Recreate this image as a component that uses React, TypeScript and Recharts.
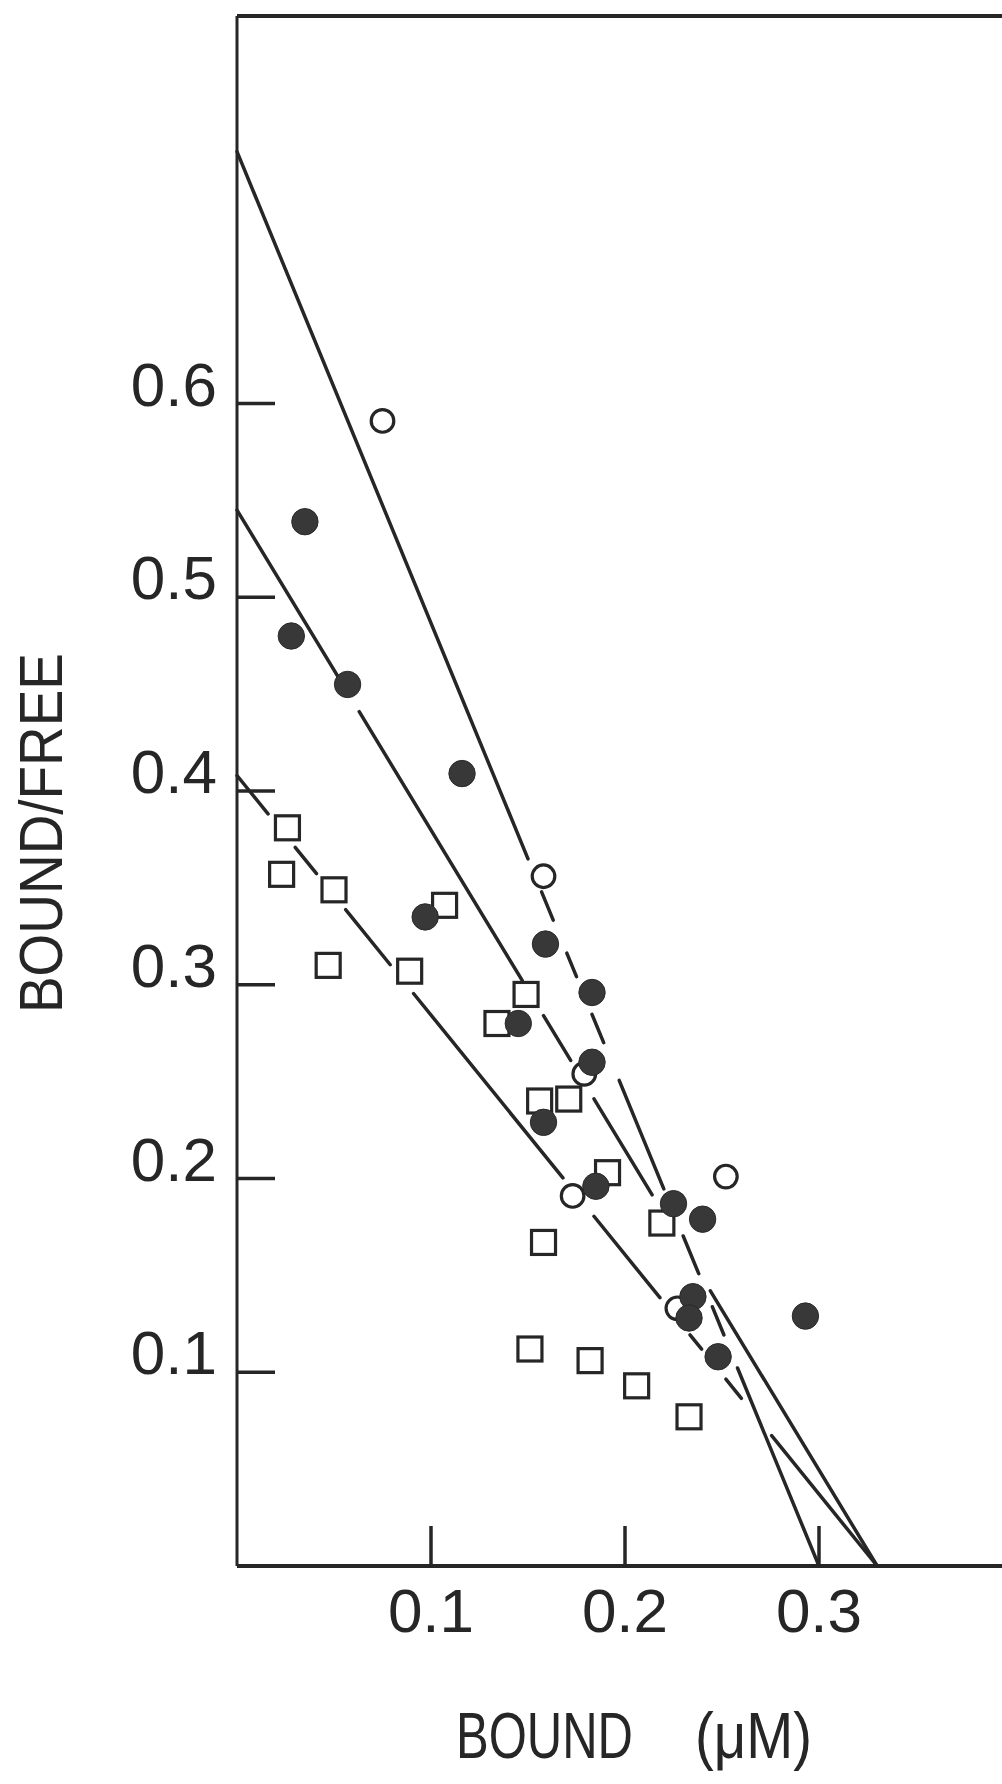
import { ScatterChart, Scatter, XAxis, YAxis, ReferenceLine, Label } from 'recharts';

// Scatchard plot: BOUND/FREE against BOUND (uM), three series with their fitted lines
const openCircles = [
    { x: 0.075, y: 0.591 },
    { x: 0.158, y: 0.356 },
    { x: 0.179, y: 0.254 },
    { x: 0.173, y: 0.191 },
    { x: 0.252, y: 0.201 },
    { x: 0.227, y: 0.133 },
];

const filledCircles = [
    { x: 0.035, y: 0.539 },
    { x: 0.028, y: 0.48 },
    { x: 0.057, y: 0.455 },
    { x: 0.116, y: 0.409 },
    { x: 0.097, y: 0.335 },
    { x: 0.159, y: 0.321 },
    { x: 0.183, y: 0.296 },
    { x: 0.145, y: 0.28 },
    { x: 0.183, y: 0.26 },
    { x: 0.158, y: 0.229 },
    { x: 0.185, y: 0.196 },
    { x: 0.225, y: 0.187 },
    { x: 0.24, y: 0.179 },
    { x: 0.235, y: 0.139 },
    { x: 0.233, y: 0.128 },
    { x: 0.248, y: 0.108 },
    { x: 0.293, y: 0.129 },
];

const squares = [
    { x: 0.026, y: 0.381 },
    { x: 0.023, y: 0.357 },
    { x: 0.05, y: 0.349 },
    { x: 0.047, y: 0.31 },
    { x: 0.089, y: 0.307 },
    { x: 0.107, y: 0.341 },
    { x: 0.134, y: 0.28 },
    { x: 0.149, y: 0.295 },
    { x: 0.156, y: 0.24 },
    { x: 0.171, y: 0.241 },
    { x: 0.191, y: 0.203 },
    { x: 0.158, y: 0.167 },
    { x: 0.219, y: 0.177 },
    { x: 0.151, y: 0.112 },
    { x: 0.182, y: 0.106 },
    { x: 0.206, y: 0.093 },
    { x: 0.233, y: 0.077 },
];

// fitted lines: B/F intercept and BOUND intercept
const openFit = { intercept: 0.73, xIntercept: 0.3 };
const filledFit = { intercept: 0.545, xIntercept: 0.33 };
const squareFit = { intercept: 0.408, xIntercept: 0.33 };

// the lines are drawn broken where they run through the symbols
const openPieces = [
    [0, 0.15], [0.157, 0.163], [0.17, 0.175], [0.183, 0.189],
    [0.197, 0.22], [0.23, 0.238], [0.245, 0.251], [0.258, 0.3],
];
const filledPieces = [
    [0, 0.053], [0.063, 0.147], [0.158, 0.172], [0.184, 0.214], [0.244, 0.33],
];
const squarePieces = [
    [0, 0.016], [0.03, 0.041], [0.056, 0.079], [0.091, 0.168],
    [0.184, 0.218], [0.2335, 0.2395], [0.252, 0.26], [0.2756, 0.33],
];

const xTicks = [0.1, 0.2, 0.3];
const yTicks = [0.1, 0.2, 0.3, 0.4, 0.5, 0.6];

const INK = '#262626';
const FONT = '"Liberation Sans", Arial, sans-serif';

const fitY = (fit: { intercept: number; xIntercept: number }, x: number) =>
    fit.intercept * (1 - x / fit.xIntercept);

function YTick(props: any) {
    const { x, y, payload } = props;
    return (
        <g>
            <line x1={x + 20} x2={x + 58} y1={y} y2={y} stroke={INK} strokeWidth={3.5} />
            <text x={x} y={y + 2} textAnchor="end" fontFamily={FONT} fontSize={62} fill={INK}>
                {payload.value.toFixed(1)}
            </text>
        </g>
    );
}

function XTick(props: any) {
    const { x, y, payload } = props;
    return (
        <g>
            <line x1={x} x2={x} y1={y - 21} y2={y - 61} stroke={INK} strokeWidth={3.5} />
            <text x={x} y={y + 45} textAnchor="middle" fontFamily={FONT} fontSize={62} fill={INK}>
                {payload.value.toFixed(1)}
            </text>
        </g>
    );
}

function OpenCircle(props: any) {
    return <circle cx={props.cx} cy={props.cy} r={11.3} fill="#fff" stroke={INK} strokeWidth={3.2} />;
}

function FilledCircle(props: any) {
    return <circle cx={props.cx} cy={props.cy} r={13.2} fill="#383838" stroke="#2a2a2a" strokeWidth={1} />;
}

function Square(props: any) {
    return (
        <rect x={props.cx - 12} y={props.cy - 12} width={24} height={24} fill="#fff" stroke={INK} strokeWidth={3.2} />
    );
}

function fitSegments(fit: { intercept: number; xIntercept: number }, pieces: number[][], key: string) {
    return pieces.map(([x0, x1], i) => (
        <ReferenceLine
            key={`${key}-${i}`}
            segment={[
                { x: x0, y: fitY(fit, x0) },
                { x: x1, y: fitY(fit, x1) },
            ]}
            stroke={INK}
            strokeWidth={3.5}
            strokeLinecap="round"
            ifOverflow="visible"
        />
    ));
}

export default function App() {
    return (
        <div
            style={{
                position: 'absolute',
                left: 0,
                top: 0,
                width: 1002,
                height: 1784,
                overflow: 'hidden',
                background: '#fff',
            }}
        >
            <ScatterChart width={1030} height={1784} margin={{ top: 16, right: 17, bottom: 0, left: 0 }}>
                <XAxis
                    type="number"
                    dataKey="x"
                    domain={[0, 0.4]}
                    ticks={xTicks}
                    height={218}
                    tickSize={0}
                    tickMargin={21}
                    tickLine={false}
                    tick={<XTick />}
                    axisLine={{ stroke: INK, strokeWidth: 4 }}
                >
                    <Label
                        content={() => (
                            <g fontFamily={FONT} fontSize={64} fill={INK}>
                                <text x={456} y={1758} textLength={177} lengthAdjust="spacingAndGlyphs">
                                    BOUND
                                </text>
                                <text x={695} y={1758} textLength={117} lengthAdjust="spacingAndGlyphs">
                                    (μM)
                                </text>
                            </g>
                        )}
                    />
                </XAxis>
                <YAxis
                    type="number"
                    dataKey="y"
                    domain={[0, 0.8]}
                    ticks={yTicks}
                    width={237}
                    tickSize={0}
                    tickMargin={20}
                    tickLine={false}
                    tick={<YTick />}
                    axisLine={{ stroke: INK, strokeWidth: 3 }}
                >
                    <Label
                        content={() => (
                            <text
                                transform="translate(62, 833) rotate(-90)"
                                textAnchor="middle"
                                fontFamily={FONT}
                                fontSize={62}
                                fill={INK}
                                textLength={360}
                                lengthAdjust="spacingAndGlyphs"
                            >
                                BOUND/FREE
                            </text>
                        )}
                    />
                </YAxis>
                <ReferenceLine y={0.8} stroke={INK} strokeWidth={4} />
                {fitSegments(openFit, openPieces, 'open')}
                {fitSegments(filledFit, filledPieces, 'filled')}
                {fitSegments(squareFit, squarePieces, 'square')}
                <Scatter data={squares} shape={<Square />} isAnimationActive={false} />
                <Scatter data={openCircles} shape={<OpenCircle />} isAnimationActive={false} />
                <Scatter data={filledCircles} shape={<FilledCircle />} isAnimationActive={false} />
            </ScatterChart>
        </div>
    );
}
